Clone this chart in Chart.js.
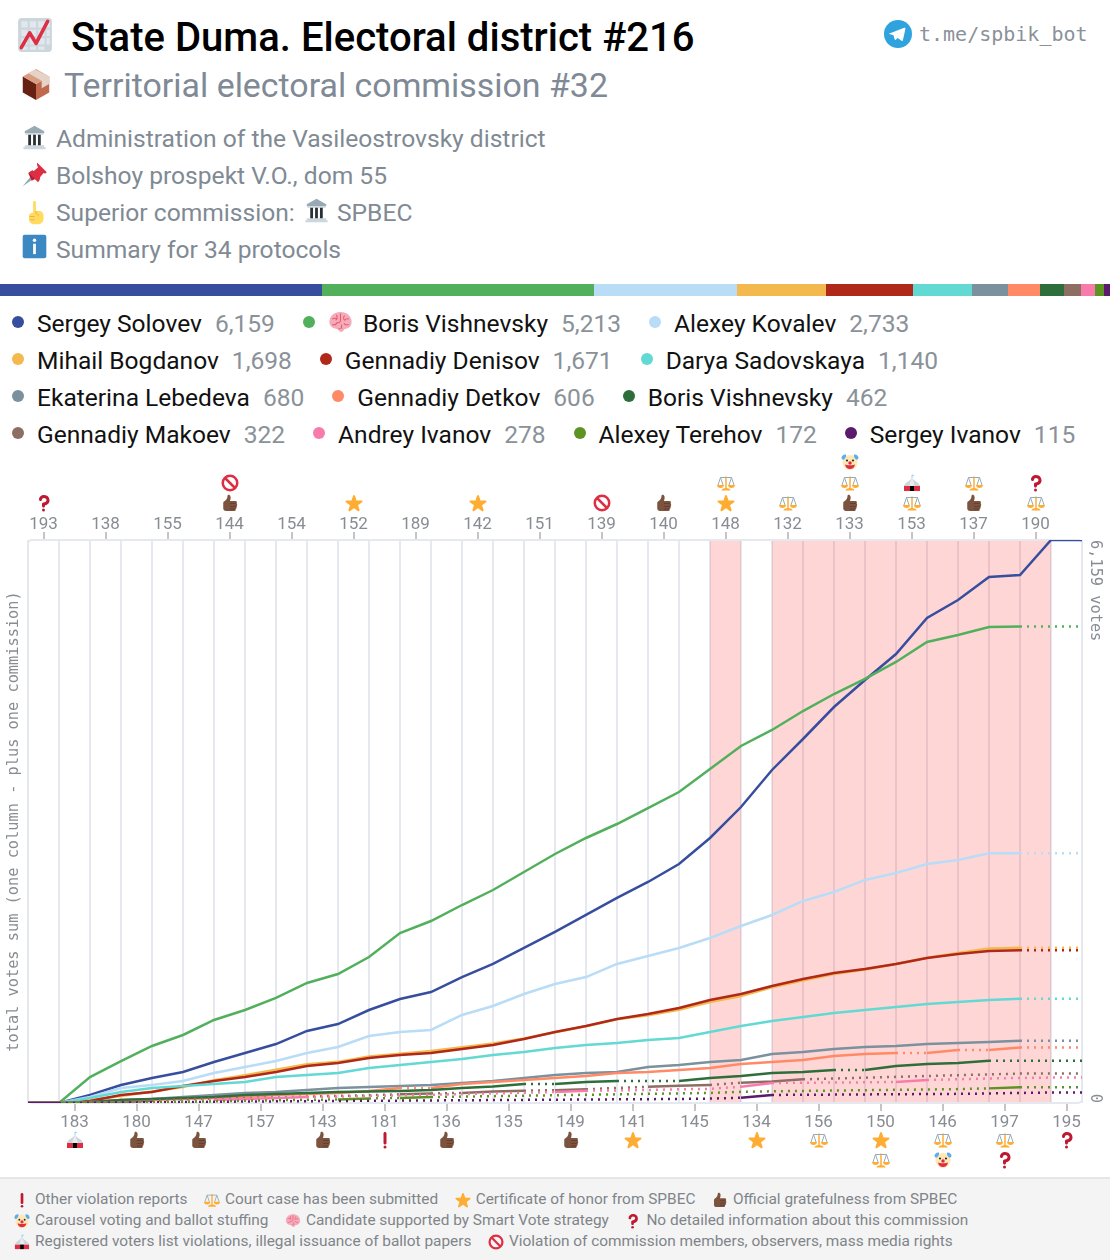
<!DOCTYPE html>
<html>
<head>
<meta charset="utf-8">
<title>State Duma. Electoral district #216</title>
<script src="https://cdn.jsdelivr.net/npm/chart.js@4"></script>
<style>
body { margin: 0; width: 1110px; height: 1260px; position: relative; overflow: hidden; background: #fff; font-family: Roboto, sans-serif; }
.abs { position: absolute; white-space: nowrap; }
svg.i { position: absolute; }
#title { left: 71px; top: 13px; font-size: 40.05px; line-height: 50px; font-weight: 500; color: #000; }
#sub { left: 64px; top: 64px; font-size: 33.9px; line-height: 44px; color: #7f8a96; }
.info { left: 56px; font-size: 24.6px; line-height: 36px; color: #7f8a94; }
#tg { left: 919px; top: 20px; font: 20px/28px "DejaVu Sans Mono", monospace; color: #8a9199; }
#share { position: absolute; left: 0; top: 284px; width: 1110px; height: 12px; display: flex; }
#legend { position: absolute; left: 12px; top: 305px; width: 1090px; display: flex; flex-wrap: wrap; column-gap: 28px; font-size: 24.55px; line-height: 37px; color: #111; }
#legend .item { display: flex; align-items: center; }
#legend .dot { width: 12px; height: 12px; border-radius: 50%; margin-right: 13px; margin-top: -3px; }
#legend .val { color: #8a9299; margin-left: 13px; }
#legend svg { margin-right: 10px; margin-top: -3px; }
#wrap { position: absolute; left: 0; top: 450px; width: 1110px; height: 725px; }
#footer { position: absolute; left: 0; top: 1177px; width: 1110px; height: 83px; background: #f4f4f4; border-top: 2px solid #e6e6e6; box-sizing: border-box; font-size: 15.4px; color: #808489; }
#footer .row { position: absolute; left: 14px; display: flex; column-gap: 16.5px; line-height: 21px; white-space: nowrap; }
#footer .item { display: flex; align-items: center; column-gap: 5px; }
</style>
</head>
<body>

<svg width="0" height="0" style="position:absolute">
  <symbol id="star" viewBox="0 0 36 36"><path fill="#FFAC33" d="M27.287 34.627c-.404 0-.806-.124-1.152-.371L18 28.422l-8.135 5.834c-.693.496-1.623.496-2.312-.008-.689-.499-.979-1.385-.721-2.194l3.034-9.792-8.062-5.681c-.685-.505-.97-1.393-.708-2.203.264-.808 1.016-1.357 1.866-1.363L12.947 13l3.179-9.549c.268-.809 1.023-1.353 1.874-1.353.851 0 1.606.545 1.875 1.353L23 13l10.036.015c.853.006 1.606.556 1.867 1.363.263.81-.022 1.698-.708 2.203l-8.062 5.681 3.034 9.792c.26.809-.033 1.695-.72 2.194-.347.254-.753.379-1.16.379z"/></symbol>
  <symbol id="thumb" viewBox="0 0 36 36"><path fill="#7C533E" d="M6 15c4-2 7-6 7-11 0-3.500 5-3.500 6 1 .8 3.500-.5 6.500-1 9h11c3.500 0 3.500 4 1.500 5 2.500 1 2.500 5 0 6 1.500 1.500 1 4.500-1.500 5 1 2 0 4-2 4H10c-3 0-5.500-2-5.500-5V18c0-1.500.5-2.500 1.500-3z"/><path stroke="#60352A" stroke-width="1.400" fill="none" d="M18 19h13M18 25h13M18 30h11"/></symbol>
  <symbol id="ban" viewBox="0 0 36 36"><circle cx="18" cy="18" r="14.500" fill="none" stroke="#DD2E44" stroke-width="5"/><path d="M8 8l20 20" stroke="#DD2E44" stroke-width="5"/></symbol>
  <symbol id="question" viewBox="0 0 36 36"><path fill="#BE1931" d="M17 27c-1.657 0-3-1.343-3-3v-4c0-1.657 1.343-3 3-3 .603-.006 6-1 6-5 0-2-2-4-5-4-2.441 0-4 2-4 3 0 1.657-1.343 3-3 3s-3-1.343-3-3c0-4.878 4.580-9 10-9 8 0 11 5.982 11 11 0 4.145-2.277 7.313-6.413 8.920-.900.351-1.790.587-2.587.747V24c0 1.657-1.343 3-3 3z"/><circle fill="#BE1931" cx="17" cy="32" r="3"/></symbol>
  <symbol id="excl" viewBox="0 0 36 36"><circle fill="#BE1931" cx="18" cy="32" r="3"/><path fill="#BE1931" d="M21 24c0 1.657-1.344 3-3 3-1.657 0-3-1.343-3-3V5c0-1.657 1.343-3 3-3 1.656 0 3 1.343 3 3v19z"/></symbol>
  <symbol id="court" viewBox="0 0 36 36"><path fill="#FFAC33" d="M16.500 5h3v24h-3z"/><path fill="#FFAC33" d="M9 33c0-3 4-5 9-5s9 2 9 5z"/><path stroke="#99AAB5" stroke-width="2" fill="none" d="M7 7h22M7 7L2 22M7 7l5 15M29 7l-5 15M29 7l5 15"/><path fill="#FFAC33" d="M0 22h14c0 4-3 6-7 6s-7-2-7-6zM22 22h14c0 4-3 6-7 6s-7-2-7-6z"/></symbol>
  <symbol id="clown" viewBox="0 0 36 36"><circle cx="18" cy="19" r="15" fill="#FFE8B6"/><path fill="#5DADEC" d="M1 10c0-5 5-8 9-7 1 3-1 7-3 9s-5 2-6-2zM35 10c0-5-5-8-9-7-1 3 1 7 3 9s5 2 6-2z"/><circle cx="12" cy="15" r="2.200" fill="#292F33"/><circle cx="24" cy="15" r="2.200" fill="#292F33"/><path fill="#DD2E44" d="M8 23c3 2 17 2 20 0-1 6-5 9-10 9s-9-3-10-9z"/><circle cx="18" cy="20" r="3.500" fill="#DD2E44"/></symbol>
  <symbol id="tent" viewBox="0 0 36 36"><path fill="#CCD6DD" d="M18 8C12 15 4 17 2 24h32c-2-7-10-9-16-16z"/><path fill="#E8ECEF" d="M18 8c-3 6-5 10-5 16h10c0-6-2-10-5-16z"/><path fill="#DD2E44" d="M2 24h32v10H2z"/><path fill="#000" d="M14 24h8v10h-8z"/><path stroke="#88C9F9" stroke-width="1.800" fill="none" d="M18 8V2l4 1"/></symbol>
  <symbol id="brain" viewBox="0 0 36 36"><path fill="#F4ABBA" d="M18 3C9 3 2 9 2 17c0 6 4 9 9 10 2 0 4 1 5 3 1 2 5 2 6 0 1-2 2-3 4-3 5-1 8-4 8-10C34 9 27 3 18 3z"/><path stroke="#EA596E" stroke-width="1.500" fill="none" d="M6 13c3-2 6-1 7 1M12 7c2 3 1 6-1 8M18 5v10c0 3-3 4-5 3M24 8c-2 2-2 5 0 7M30 13c-3-1-5 0-6 2M6 21c3 1 6 0 7-3M23 19c1 2 4 3 7 2M18 27h-3M20 21c-1 2-1 4 0 6"/></symbol>
  <symbol id="chart" viewBox="0 0 36 36"><path fill="#CCD6DD" d="M31 2H5C3.300 2 2 3.300 2 5v26c0 1.700 1.300 3 3 3h26c1.700 0 3-1.300 3-3V5c0-1.700-1.300-3-3-3z"/><path fill="#E1E8ED" d="M5 5h6v6H5zM13 5h6v6h-6zM21 5h6v6h-6zM5 13h6v6H5zM13 13h6v6h-6zM21 13h6v6h-6zM5 21h6v6H5zM13 21h6v6h-6zM21 21h6v6h-6zM5 29h6v3H5zM13 29h6v3h-6zM21 29h6v3h-6zM29 5h3v6h-3zM29 13h3v6h-3zM29 21h3v6h-3z"/><path fill="none" stroke="#DD2E44" stroke-width="3.400" stroke-linecap="round" stroke-linejoin="round" d="M5 30L13 16l6 10 11-21"/></symbol>
  <symbol id="box" viewBox="0 0 36 36"><path fill="#662113" d="M4 9l14 8v17L4 26z"/><path fill="#C1694F" d="M32 9l-14 8v17l14-8z"/><path fill="#D99E82" d="M4 9l14-8 14 8-14 8z"/><path fill="#E6D3C8" d="M10 5.500l14 8v8l8-4.500V9L17 1.500z"/></symbol>
  <symbol id="bank" viewBox="0 0 36 36"><path fill="#99AAB5" d="M18 1L4 9v3h28V9z"/><path fill="#CCD6DD" d="M4 29h28v3H4zM2 32h32v3H2zM5 12h26v2H5z"/><path fill="#292F33" d="M9 14h4v15H9zM16 14h4v15h-4zM23 14h4v15h-4z"/></symbol>
  <symbol id="pin" viewBox="0 0 36 36"><path fill="#99AAB5" d="M1 35l12-15 4 4z"/><path fill="#BE1931" d="M14 27L9 16l6-4 11 9z"/><path fill="#DD2E44" d="M22 1l13 13c1 2-1 3-4 2l-5 6c0 3-1 6-3 7L10 16c1-2 4-3 7-3l6-5c-1-3-2-6-1-7z"/></symbol>
  <symbol id="point" viewBox="0 0 36 36"><path fill="#FFDC5D" d="M16 3c0-2 4-2 4 0v13h4c5 0 7 3 7 7v4c0 5-4 8-8 8h-5c-4 0-8-3-8-7v-5c0-3 2-4 6-5z"/><path stroke="#EF9645" stroke-width="1.200" fill="none" d="M11 24h7M20 16c0 3 1 5 4 6M12 28c2 1 4 1 6 0"/></symbol>
  <symbol id="info" viewBox="0 0 36 36"><rect width="34" height="34" x="1" y="1" rx="3" fill="#3B88C3"/><path fill="#fff" d="M16 14h4v15h-4z"/><circle cx="18" cy="9" r="2.500" fill="#fff"/></symbol>
  <symbol id="telegram" viewBox="0 0 36 36"><circle cx="18" cy="18" r="18" fill="#2FA3DE"/><path fill="#fff" d="M7 17.500l19-7.500c1-.4 1.800.2 1.500 1.500L24.300 26c-.2 1-.9 1.300-1.800.8l-5-3.700-2.400 2.300c-.5.500-1 .6-1.300-.2l-1.700-5.600-5-1.500c-1-.3-1-1 0-.6z"/></symbol>
</svg>

<svg class="i" style="left:16px;top:16px" width="38" height="38"><use href="#chart"/></svg>
<div class="abs" id="title">State Duma. Electoral district #216</div>
<svg class="i" style="left:19px;top:68px" width="34" height="34"><use href="#box"/></svg>
<div class="abs" id="sub">Territorial electoral commission #32</div>

<svg class="i" style="left:22px;top:125px" width="25" height="25"><use href="#bank"/></svg>
<div class="abs info" style="top:121px">Administration of the Vasileostrovsky district</div>
<svg class="i" style="left:22px;top:162px" width="25" height="25"><use href="#pin"/></svg>
<div class="abs info" style="top:158px">Bolshoy prospekt V.O., dom 55</div>
<svg class="i" style="left:22px;top:200px" width="25" height="25"><use href="#point"/></svg>
<div class="abs info" style="top:195px">Superior commission:</div>
<svg class="i" style="left:304px;top:198px" width="25" height="25"><use href="#bank"/></svg>
<div class="abs info" style="top:195px;left:337px">SPBEC</div>
<svg class="i" style="left:22px;top:234px" width="25" height="25"><use href="#info"/></svg>
<div class="abs info" style="top:232px">Summary for 34 protocols</div>

<svg class="i" style="left:884px;top:20px" width="28" height="28"><use href="#telegram"/></svg>
<div class="abs" id="tg">t.me/spbik_bot</div>

<div id="share"></div>
<div id="legend"></div>
<div id="wrap"><canvas id="chart-canvas" width="1110" height="725"></canvas></div>
<div id="footer"></div>

<script>
// commissions in the order they were added, left to right
const commissions = [193, 183, 138, 180, 155, 147, 144, 157, 154, 143, 152, 181, 189, 136, 142, 135, 151, 149, 139, 141, 140, 145, 148, 134, 132, 156, 133, 150, 153, 146, 137, 197, 190, 195];

const candidates = ['Sergey Solovev', 'Boris Vishnevsky', 'Alexey Kovalev', 'Mihail Bogdanov', 'Gennadiy Denisov', 'Darya Sadovskaya', 'Ekaterina Lebedeva', 'Gennadiy Detkov', 'Boris Vishnevsky', 'Gennadiy Makoev', 'Andrey Ivanov', 'Alexey Terehov', 'Sergey Ivanov'];
const totals = [6159, 5213, 2733, 1698, 1671, 1140, 680, 606, 462, 322, 278, 172, 115];
const colors = ['#374e9e', '#52b05c', '#b9dcf7', '#f4b94e', '#b02818', '#62d9d2', '#7b919e', '#ff8a65', '#2e6e3a', '#8d6e63', '#f87bab', '#5d9322', '#5b1a6b'];

// running vote sums, one value per column edge
const solovev = [0, 0, 88, 197, 274, 339, 449, 547, 645, 788, 864, 1017, 1138, 1214, 1378, 1521, 1696, 1871, 2057, 2243, 2418, 2615, 2899, 3238, 3643, 3982, 4332, 4628, 4912, 5306, 5503, 5754, 5776, 6159, 6159];
const vishnevsky = [0, 0, 284, 459, 624, 744, 908, 1017, 1149, 1313, 1411, 1597, 1860, 1991, 2166, 2330, 2527, 2724, 2899, 3052, 3227, 3402, 3654, 3906, 4081, 4288, 4474, 4639, 4825, 5043, 5120, 5207, 5213, 5213, 5213];
const kovalev = [0, 0, 66, 164, 197, 241, 328, 394, 459, 547, 613, 733, 777, 799, 963, 1061, 1192, 1302, 1378, 1521, 1608, 1696, 1805, 1936, 2057, 2210, 2308, 2440, 2516, 2615, 2658, 2733, 2733, 2733, 2733];
const bogdanov = [0, 0, 33, 77, 125, 175, 250, 305, 365, 425, 450, 510, 540, 570, 610, 650, 705, 775, 840, 915, 960, 1020, 1105, 1170, 1265, 1340, 1410, 1460, 1520, 1590, 1640, 1690, 1698, 1698, 1698];
const denisov = [0, 0, 22, 88, 120, 186, 241, 284, 339, 405, 438, 492, 525, 547, 591, 635, 700, 777, 842, 919, 974, 1039, 1127, 1192, 1280, 1357, 1422, 1466, 1521, 1586, 1630, 1663, 1671, 1671, 1671];
const sadovskaya = [0, 0, 55, 120, 164, 186, 208, 230, 284, 306, 328, 383, 416, 449, 481, 525, 558, 602, 635, 656, 689, 711, 777, 842, 897, 941, 985, 1017, 1050, 1083, 1105, 1127, 1140, 1140, 1140];
const lebedeva = [0, 0, 11, 33, 44, 66, 88, 109, 120, 142, 164, 175, 186, 197, 219, 241, 274, 306, 328, 339, 394, 416, 449, 470, 536, 558, 591, 613, 624, 645, 656, 667, 680, 680, 680];
const detkov = [0, 0, 11, 16, 33, 44, 55, 66, 88, 98, 109, 131, 164, 164, 208, 230, 252, 274, 295, 328, 339, 361, 383, 427, 449, 470, 514, 536, 547, 547, 580, 580, 606, 606, 606];
const vishnevsky2 = [0, 0, 11, 33, 44, 55, 66, 88, 98, 109, 120, 126, 131, 142, 164, 181, 208, 208, 230, 241, 241, 241, 274, 295, 328, 339, 361, 361, 405, 427, 438, 462, 462, 462, 462];
const makoev = [0, 0, 3, 8, 25, 40, 48, 54, 60, 70, 78, 84, 95, 105, 110, 125, 135, 140, 150, 165, 178, 188, 197, 222, 235, 259, 268, 277, 286, 295, 304, 313, 322, 322, 322];
const ivanovA = [0, 0, 0, 5, 10, 20, 33, 44, 55, 66, 70, 78, 83, 90, 98, 105, 112, 120, 135, 138, 142, 150, 155, 178, 219, 222, 224, 226, 230, 252, 260, 268, 274, 278, 278];
const terehov = [0, 0, 0, 3, 8, 13, 18, 25, 30, 35, 38, 50, 55, 65, 70, 75, 80, 85, 90, 95, 100, 105, 110, 122, 128, 132, 136, 140, 144, 148, 152, 160, 172, 172, 172];
const ivanovS = [0, 0, 2, 5, 8, 10, 13, 16, 18, 20, 22, 25, 26, 28, 30, 32, 34, 36, 38, 40, 42, 44, 48, 58, 88, 90, 92, 94, 96, 98, 100, 104, 110, 115, 115];
const votes = [solovev, vishnevsky, kovalev, bogdanov, denisov, sadovskaya, lebedeva, detkov, vishnevsky2, makoev, ivanovA, terehov, ivanovS];

// steps where a candidate's line is only dotted
const dotted = [
  [],
  [32, 33],
  [32, 33],
  [32, 33],
  [32, 33],
  [32, 33],
  [32, 33],
  [12, 28, 30, 32, 33],
  [16, 19, 20, 26, 31, 32, 33],
  [4, 5, 6, 7, 8, 9, 10, 11, 13, 16, 18, 19, 22, 25, 26, 27, 28, 29, 30, 31, 32, 33],
  [2, 3, 4, 5, 9, 10, 11, 12, 13, 14, 15, 16, 18, 19, 20, 21, 22, 24, 25, 26, 27, 29, 30, 31, 32, 33],
  [2, 3, 4, 5, 6, 7, 8, 9, 11, 13, 14, 15, 16, 17, 18, 19, 20, 21, 22, 23, 24, 25, 26, 27, 28, 29, 30, 32, 33],
  [1, 2, 3, 4, 5, 6, 7, 8, 9, 10, 11, 12, 13, 14, 15, 16, 17, 18, 19, 20, 21, 22, 24, 25, 26, 27, 28, 29, 30, 31, 32, 33]
];

// report badges per commission, nearest to the axis first
const badges = {
  193: ['question'], 183: ['tent'], 180: ['thumb'], 147: ['thumb'], 144: ['thumb', 'ban'], 152: ['star'], 143: ['thumb'],
  181: ['excl'], 136: ['thumb'], 142: ['star'], 149: ['thumb'], 139: ['ban'], 141: ['star'], 140: ['thumb'],
  148: ['star', 'court'], 134: ['star'], 132: ['court'], 156: ['court'], 133: ['thumb', 'court', 'clown'], 150: ['star', 'court'],
  153: ['court', 'tent'], 146: ['court', 'clown'], 137: ['thumb', 'court'], 197: ['court', 'question'], 190: ['court', 'question'], 195: ['question']
};

const footerRows = [
  [['excl', 'Other violation reports'], ['court', 'Court case has been submitted'], ['star', 'Certificate of honor from SPBEC'], ['thumb', 'Official gratefulness from SPBEC']],
  [['clown', 'Carousel voting and ballot stuffing'], ['brain', 'Candidate supported by Smart Vote strategy'], ['question', 'No detailed information about this commission']],
  [['tent', 'Registered voters list violations, illegal issuance of ballot papers'], ['ban', 'Violation of commission members, observers, mass media rights']]
];

const icon = (name, size) => `<svg width="${size}" height="${size}"><use href="#${name}"/></svg>`;

// share strip and legend
candidates.forEach((name, i) => {
  document.getElementById('share').insertAdjacentHTML('beforeend', `<div style="flex:${totals[i]};background:${colors[i]}"></div>`);
  const brain = i === 1 ? icon('brain', 25) : '';
  document.getElementById('legend').insertAdjacentHTML('beforeend',
    `<div class="item"><span class="dot" style="background:${colors[i]}"></span>${brain}${name}<span class="val">${totals[i].toLocaleString('en-US')}</span></div>`);
});

footerRows.forEach((row, r) => {
  const items = row.map(([ic, text]) => `<div class="item">${icon(ic, 16)}${text}</div>`).join('');
  document.getElementById('footer').insertAdjacentHTML('beforeend', `<div class="row" style="top:${10 + r * 21}px">${items}</div>`);
});

const halfSteps = [];
for (let i = 0; i <= commissions.length * 2; i++) halfSteps.push({ value: i / 2 });

const gridColor = '#e6e8ef';
const tickLabelColor = '#888c93';
const monoFont = '"DejaVu Sans Mono", monospace';

// the two x axes share ticks on every half step: whole ones for the grid, half ones for labels
function columnAxis(position, side) {
  return {
    type: 'linear',
    position: position,
    min: 0,
    max: commissions.length,
    afterBuildTicks: scale => { scale.ticks = halfSteps.map(t => ({ value: t.value })); },
    afterFit: scale => { scale.height = position === 'top' ? 90 : 72; },
    border: { display: false },
    grid: {
      drawOnChartArea: position === 'bottom',
      color: ctx => Number.isInteger(ctx.tick.value) ? gridColor : 'transparent',
      lineWidth: 2,
      tickLength: 8,
      tickWidth: 1,
      tickColor: ctx => (!Number.isInteger(ctx.tick.value) && Math.floor(ctx.tick.value) % 2 === side) ? '#8a8a8a' : 'transparent'
    },
    ticks: {
      autoSkip: false,
      maxRotation: 0,
      padding: position === 'top' ? -3 : 2,
      color: tickLabelColor,
      font: { family: 'Roboto', size: 17 },
      callback: v => (!Number.isInteger(v) && Math.floor(v) % 2 === side) ? commissions[Math.floor(v)] : ''
    }
  };
}

// pink columns are the ones with a court case; frame goes under the lines, rotated end labels on top
const chartDecor = {
  id: 'chartDecor',
  beforeDatasetsDraw(chart) {
    const { ctx, chartArea, scales } = chart;
    ctx.save();
    ctx.fillStyle = 'rgba(255,0,0,0.16)';
    commissions.forEach((c, i) => {
      if ((badges[c] || []).includes('court')) {
        const left = scales.x.getPixelForValue(i);
        ctx.fillRect(left, chartArea.top, scales.x.getPixelForValue(i + 1) - left, chartArea.height);
      }
    });
    ctx.strokeStyle = gridColor;
    ctx.lineWidth = 2;
    ctx.beginPath();
    ctx.roundRect(chartArea.left, chartArea.top, chartArea.width, chartArea.height, 4);
    ctx.stroke();
    ctx.restore();
  },
  afterDraw(chart) {
    const { ctx, chartArea } = chart;
    ctx.save();
    ctx.translate(chartArea.right + 13, chartArea.top);
    ctx.rotate(Math.PI / 2);
    ctx.font = '15.3px ' + monoFont;
    ctx.fillStyle = tickLabelColor;
    ctx.textBaseline = 'middle';
    ctx.fillText(totals[0].toLocaleString('en-US') + ' votes', 0, 0);
    ctx.textAlign = 'right';
    ctx.fillText('0', chartArea.height, 0);
    ctx.restore();
  }
};

const chart = new Chart(document.getElementById('chart-canvas'), {
  type: 'line',
  data: {
    datasets: candidates.map((name, i) => ({
      label: name,
      data: votes[i].map((v, k) => ({ x: k, y: v })),
      borderColor: colors[i],
      borderWidth: 2.5,
      pointRadius: 0,
      tension: 0,
      order: -i, // later candidates on top
      segment: { borderDash: c => dotted[i].includes(c.p0DataIndex) ? [2, 5] : undefined }
    }))
  },
  options: {
    responsive: false,
    animation: false,
    layout: { padding: { right: 28 } },
    plugins: { legend: { display: false }, tooltip: { enabled: false } },
    scales: {
      x: columnAxis('bottom', 1),
      xTop: columnAxis('top', 0),
      y: {
        min: 0,
        max: totals[0],
        grid: { display: false },
        border: { display: false },
        ticks: { display: false },
        afterFit: scale => { scale.width = 28; },
        title: {
          display: true,
          text: 'total votes sum (one column - plus one commission)',
          color: tickLabelColor,
          font: { family: monoFont, size: 15.3 },
          padding: { top: 5, bottom: 0 }
        }
      }
    }
  },
  plugins: [chartDecor]
});

// badges sit above and below the axis labels
const wrap = document.getElementById('wrap');
commissions.forEach((c, i) => {
  const x = chart.scales.x.getPixelForValue(i + 0.5);
  (badges[c] || []).forEach((name, k) => {
    const y = i % 2 === 0 ? chart.chartArea.top - 37 - k * 20.5 : chart.chartArea.bottom + 37 + k * 20;
    wrap.insertAdjacentHTML('beforeend', `<svg class="i" style="left:${x - 9}px;top:${y - 9}px" width="18" height="18"><use href="#${name}"/></svg>`);
  });
});
</script>
</body>
</html>
